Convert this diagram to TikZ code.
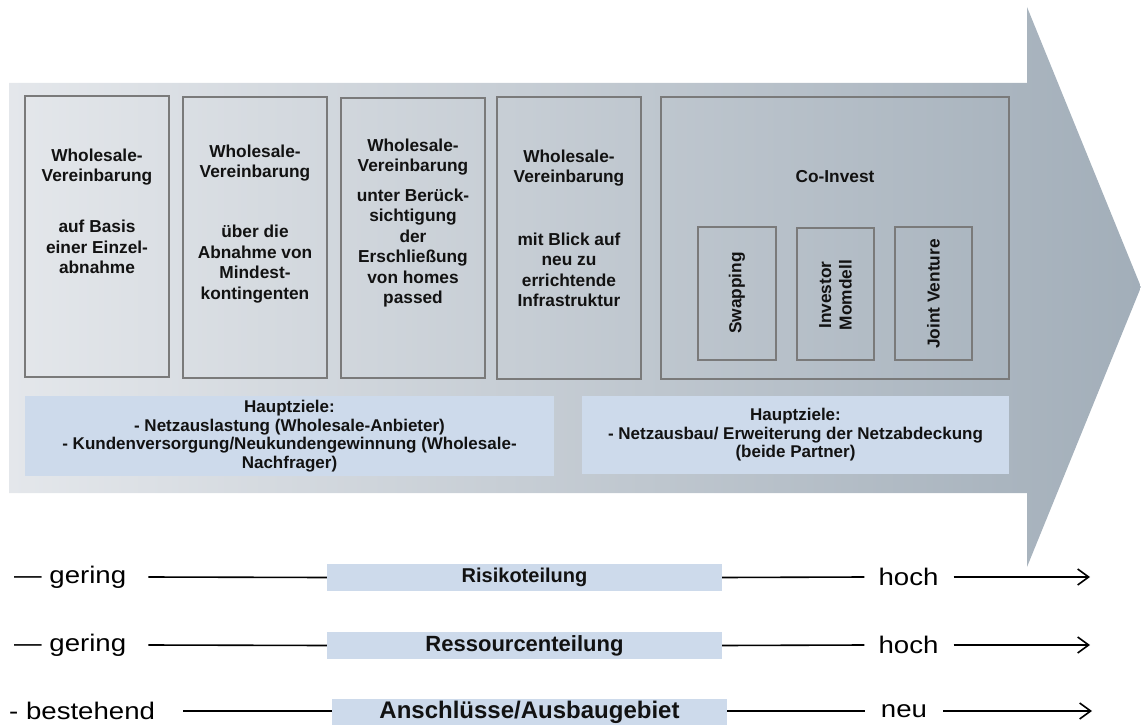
\documentclass[tikz,border=0pt]{standalone}
\usepackage{fontspec}
\setmainfont{Liberation Sans}
\usetikzlibrary{arrows.meta}
\definecolor{shL}{HTML}{E4E7EB}
\definecolor{shR}{HTML}{A2AEB9}
\definecolor{boxline}{HTML}{7A7A7A}
\definecolor{lblue}{HTML}{CDDAEB}
\definecolor{txt}{HTML}{121212}
\tikzset{
  vbox/.style={draw=boxline, line width=1.5pt, inner sep=0pt},
  btext/.style={align=center, text=txt, font=\bfseries\fontsize{17.3}{20.5}\selectfont, inner sep=0pt},
  goal/.style={fill=lblue, inner sep=0pt, align=center, text=txt, font=\bfseries\fontsize{17}{18.6}\selectfont},
  band/.style={fill=lblue, inner sep=0pt, text=txt, font=\bfseries\fontsize{20}{22}\selectfont},
  lab/.style={inner sep=0pt, text=black, xscale=1.15, font=\fontsize{24}{26}\selectfont},
  axis/.style={draw=black, line width=1.6pt},
  axarrow/.style={axis, -{Straight Barb[length=11pt,width=16pt,line width=1.6pt]}}
}
\begin{document}
\begin{tikzpicture}[x=1pt,y=-1pt]
\useasboundingbox (0,0) rectangle (1141,725);
% big arrow
\shade[left color=shL, right color=shR]
  (9,83) -- (1027,83) -- (1027,7) -- (1141,287) -- (1027,567) -- (1027,493) -- (9,493) -- cycle;
% five boxes
\node[vbox, minimum width=144pt, minimum height=281pt] (b1) at (97,236.5) {};
\node[vbox, minimum width=144pt, minimum height=281pt] (b2) at (255,237.5) {};
\node[vbox, minimum width=144pt, minimum height=280pt] (b3) at (413,238) {};
\node[vbox, minimum width=144pt, minimum height=282pt] (b4) at (569,238) {};
\node[vbox, minimum width=348pt, minimum height=282pt] (b5) at (835,238) {};
% texts
\node[btext] (t1a) at (97,167) {Wholesale-\\Vereinbarung};
\node[btext] (t1b) at (97,247) {auf Basis\\einer Einzel-\\abnahme};
\node[btext] (t2a) at (255,163) {Wholesale-\\Vereinbarung};
\node[btext] (t2b) at (255,264) {über die\\Abnahme von\\Mindest-\\kontingenten};
\node[btext] (t3a) at (413,157) {Wholesale-\\Vereinbarung};
\node[btext] (t3b) at (413,248) {unter Berück-\\sichtigung\\der\\Erschließung\\von homes\\passed};
\node[btext] (t4a) at (569,168) {Wholesale-\\Vereinbarung};
\node[btext] (t4b) at (569,270) {mit Blick auf\\neu zu\\errichtende\\Infrastruktur};
\node[btext] (t5) at (835,177) {Co-Invest};
% sub boxes
\node[vbox, minimum width=78pt, minimum height=133pt] (s1) at (737,293.5) {};
\node[vbox, minimum width=77pt, minimum height=132pt] (s2) at (835.5,294) {};
\node[vbox, minimum width=77pt, minimum height=133pt] (s3) at (933.5,293.5) {};
\node[btext, rotate=90] (s1t) at (737,293) {Swapping};
\node[btext, rotate=90] (s2t) at (835.5,295) {Investor\\Momdell};
\node[btext, rotate=90] (s3t) at (933.5,294) {Joint Venture};
% goals
\node[goal, minimum width=529pt, minimum height=80pt] (g1) at (289.5,436) {Hauptziele:\\- Netzauslastung (Wholesale-Anbieter)\\- Kundenversorgung/Neukundengewinnung (Wholesale-\\Nachfrager)};
\node[goal, minimum width=427pt, minimum height=78pt] (g2) at (795.5,435) {Hauptziele:\\- Netzausbau/ Erweiterung der Netzabdeckung\\(beide Partner)};
% bottom scales
\node[band, minimum width=395pt, minimum height=27pt] (r1) at (524.5,577.5) {Risikoteilung};
\node[band, minimum width=395pt, minimum height=27pt, font=\bfseries\fontsize{22}{24}\selectfont] (r2) at (524.5,645.5) {Ressourcenteilung};
\node[band, minimum width=395pt, minimum height=27pt, font=\bfseries\fontsize{24}{26}\selectfont] (r3) at (529.5,712.5) {Anschlüsse/Ausbaugebiet};
\node[lab, anchor=west] (l1) at (14,577) {— gering};
\node[lab, anchor=west] (l2) at (14,645) {— gering};
\node[lab, anchor=west] (l3) at (9,711) {- bestehend};
\node[lab] (h1) at (908.5,577) {hoch};
\node[lab] (h2) at (908.5,645) {hoch};
\node[lab] (h3) at (904,711) {neu};
\coordinate (e1) at (1090,577);
\coordinate (e2) at (1090,645);
\coordinate (e3) at (1092,711);
\draw[axis] ([xshift=22pt]l1.east) -- (r1.west);
\draw[axis] ([xshift=22pt]l2.east) -- (r2.west);
\draw[axis] ([xshift=28pt]l3.east) -- (r3.west |- l3);
\draw[axis] (r1.east) -- ([xshift=-14pt]h1.west);
\draw[axis] (r2.east) -- ([xshift=-14pt]h2.west);
\draw[axis] (r3.east |- h3) -- ([xshift=-16pt]h3.west);
\draw[axarrow] ([xshift=15pt]h1.east) -- (e1);
\draw[axarrow] ([xshift=15pt]h2.east) -- (e2);
\draw[axarrow] ([xshift=16pt]h3.east) -- (e3);
\end{tikzpicture}
\end{document}
